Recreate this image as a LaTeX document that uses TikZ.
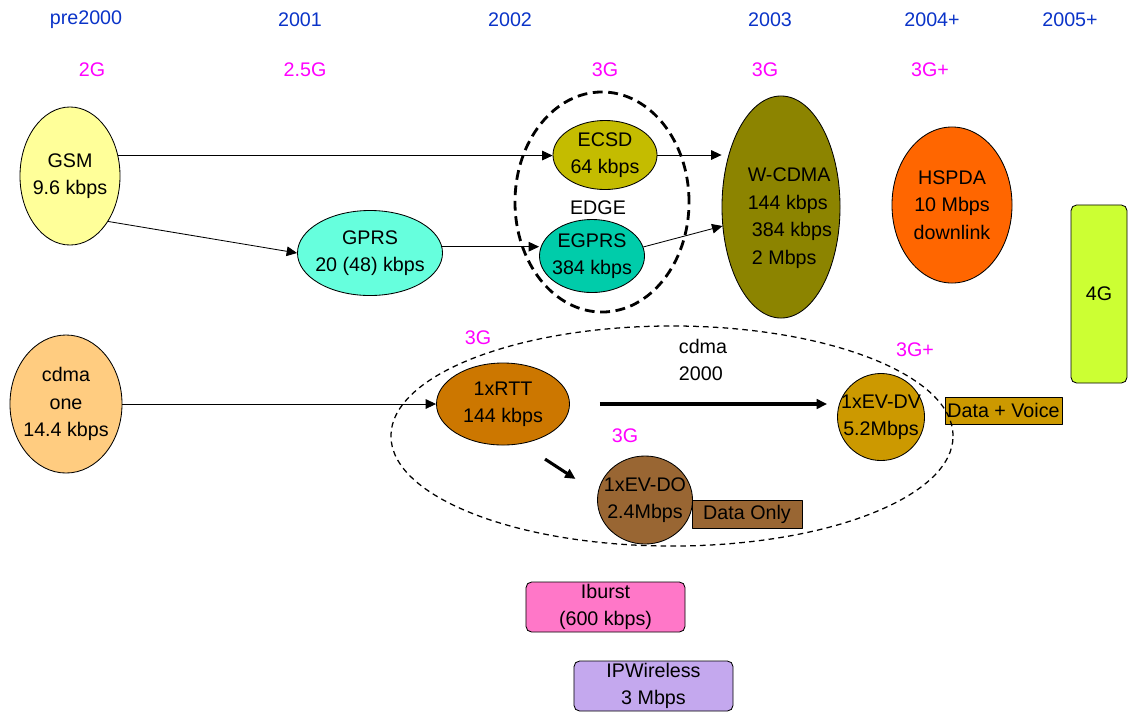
\documentclass[tikz,border=0pt]{standalone}
\usepackage{fontspec}
\setmainfont{Liberation Sans}
\usetikzlibrary{shapes.geometric,arrows.meta}
\definecolor{yearblue}{HTML}{0A33C8}
\definecolor{genpink}{HTML}{FF00FF}
\definecolor{gsmfill}{HTML}{FFFF99}
\definecolor{gprsfill}{HTML}{66FFDD}
\definecolor{ecsdfill}{HTML}{C4BC00}
\definecolor{egprsfill}{HTML}{00CCAA}
\definecolor{wcdmafill}{HTML}{8C8400}
\definecolor{hspdafill}{HTML}{FF6600}
\definecolor{fourgfill}{HTML}{CCFF33}
\definecolor{cdmafill}{HTML}{FFCC80}
\definecolor{rttfill}{HTML}{CC7700}
\definecolor{dvfill}{HTML}{CC9900}
\definecolor{dofill}{HTML}{996633}
\definecolor{iburstfill}{HTML}{FF77C8}
\definecolor{ipwfill}{HTML}{C4A8EE}
\begin{document}
\begin{tikzpicture}[x=0.025cm,y=-0.025cm,line join=round,>={Triangle[length=2.6mm,width=2.4mm]},font=\fontsize{14}{19.5}\selectfont]
\tikzset{blob/.style={ellipse,draw,line width=0.6pt,inner sep=0pt},
  tag/.style={rectangle,draw,line width=0.6pt,inner sep=0pt,align=center},
  year/.style={text=yearblue},
  gen/.style={text=genpink},
  link/.style={->,line width=0.6pt},
  bold link/.style={->,line width=2.2pt}}
\useasboundingbox (0,0) rectangle (1129,713);
\foreach \t/\x in {pre2000/86,2001/300,2002/510,2003/770,2004+/932,2005+/1070}
	\node[year] (y\x) at (\x,20) {\t};
\foreach \t/\x/\y in {2G/92/70,2.5G/305/70,3G/605/70,3G/765/70,3G+/930/70,3G/478/338,3G/625/436,3G+/915/350}
	\node[gen] (g\x) at (\x,\y) {\t};
\node[blob,fill=gsmfill,minimum width=2.5cm,minimum height=3.45cm,label={[align=center]center:GSM\\9.6 kbps}] (gsm) at (70,176) {};
\node[blob,fill=gprsfill,minimum width=3.625cm,minimum height=2.125cm,label={[align=center]center:GPRS\\20 (48) kbps}] (gprs) at (370,253) {};
\node[blob,fill=ecsdfill,minimum width=2.6cm,minimum height=1.725cm,label={[align=center]center:ECSD\\64 kbps}] (ecsd) at (605,155) {};
\node[blob,fill=egprsfill,minimum width=2.625cm,minimum height=1.825cm,label={[align=center]center:EGPRS\\384 kbps}] (egprs) at (592,256) {};
\node[blob,fill=wcdmafill,minimum width=2.95cm,minimum height=5.55cm,label={[align=left,xshift=0.22cm,yshift=-0.28cm]center:W-CDMA\\144 kbps\\\hspace*{3pt}384 kbps\\\hspace*{3pt}2 Mbps}] (wcdma) at (781,207) {};
\node[blob,fill=hspdafill,minimum width=3cm,minimum height=3.9cm,label={[align=center]center:HSPDA\\10 Mbps\\downlink}] (hspda) at (952,205) {};
\node[tag,fill=fourgfill,rounded corners=4pt,minimum width=1.4cm,minimum height=4.45cm] (fourg) at (1099,294) {4G};
\node[blob,fill=cdmafill,minimum width=2.8cm,minimum height=3.45cm,label={[align=center]center:cdma\\one\\14.4 kbps}] (cdmaone) at (66,404) {};
\node[blob,fill=rttfill,minimum width=3.325cm,minimum height=2.05cm,label={[align=center]center:1xRTT\\144 kbps}] (rtt) at (503,404) {};
\node[blob,fill=dvfill,minimum width=2.175cm,minimum height=2.175cm,label={[align=center]center:1xEV-DV\\5.2Mbps}] (evdv) at (881,417) {};
\node[tag,fill=dvfill,minimum width=2.925cm,minimum height=0.675cm] (voice) at (1003.5,410.5) {Data + Voice};
\node[blob,fill=dofill,minimum width=2.375cm,minimum height=2.2cm,label={[align=center]center:1xEV-DO\\2.4Mbps}] (evdo) at (645,500) {};
\node[tag,fill=dofill,minimum width=2.75cm,minimum height=0.7cm] (dataonly) at (747,514) {Data Only};
\node[tag,fill=iburstfill,rounded corners=4pt,minimum width=3.975cm,minimum height=1.25cm] (iburst) at (605.5,607) {Iburst\\(600 kbps)};
\node[tag,fill=ipwfill,rounded corners=4pt,minimum width=3.975cm,minimum height=1.25cm] (ipw) at (653.5,686) {IPWireless\\3 Mbps};
\node (edgelbl) at (598,208) {EDGE};
\node[align=left] (cdmalbl) at (703,360) {cdma\\2000};
\node[ellipse,draw,line width=2pt,dash pattern=on 7pt off 4pt,minimum width=4.35cm,minimum height=5.5cm] (edge) at (602,202) {};
\node[ellipse,draw,line width=0.9pt,dash pattern=on 4pt off 3pt,minimum width=14.05cm,minimum height=5.5cm] (cdmaring) at (672,436) {};
\draw[link] (gsm.23) -- (gsm.23 -| ecsd.west);
\draw[link] (gsm.-50) -- (gprs.west);
\draw[link] (gprs.5) -- (gprs.5 -| egprs.west);
\draw[link] (ecsd.east) -- (ecsd.east -| wcdma.west);
\draw[link] (egprs.10) -- (wcdma.198);
\draw[link] (cdmaone.east) -- (rtt.west);
\draw[bold link,shorten <=0.75cm,shorten >=0.25cm] (rtt.east) -- (rtt.east -| evdv.west);
\draw[bold link,shorten <=0.7cm,shorten >=0.66cm] (rtt.-65) -- (evdo.172);
\end{tikzpicture}
\end{document}
